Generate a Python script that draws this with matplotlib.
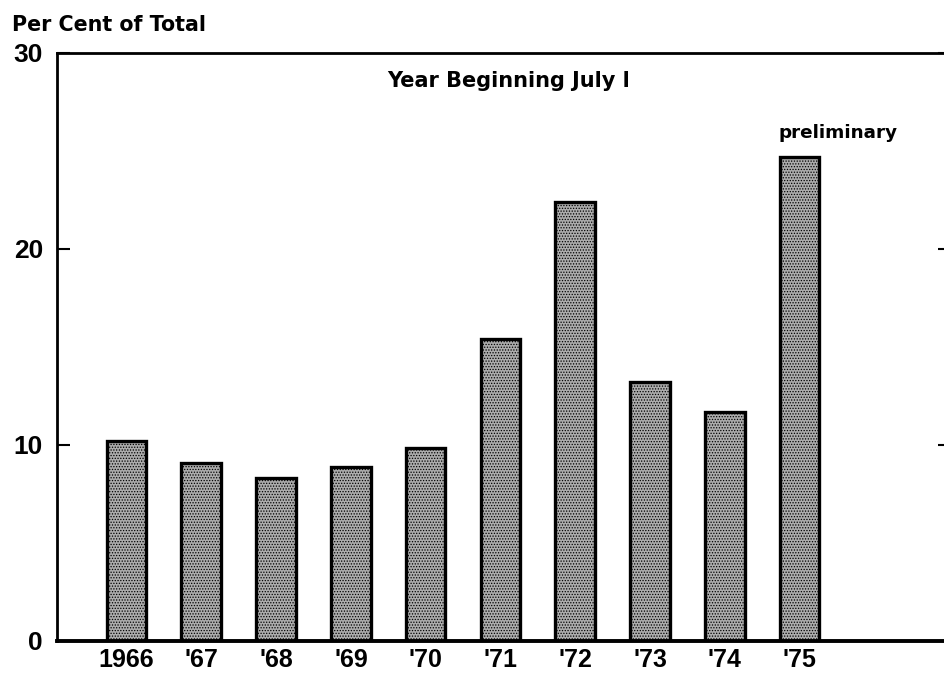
import matplotlib
matplotlib.use("Agg")
import matplotlib.pyplot as plt

categories = ["1966", "'67", "'68", "'69", "'70", "'71", "'72", "'73", "'74", "'75"]
values = [10.2, 9.1, 8.3, 8.9, 9.85, 15.4, 22.4, 13.2, 11.7, 24.7]
yticks = [0, 10, 20, 30]

W, H = 944, 674
fig = plt.figure(figsize=(W / 100, H / 100), dpi=100)
ax = fig.add_axes([57 / W, 1 - 641 / H, (950 - 57) / W, (641 - 53) / H])

x = list(range(len(categories)))
plt.rcParams['hatch.linewidth'] = 0.6
plt.rcParams['hatch.color'] = '#4a4a4a'
ax.bar(x, values, width=0.53, facecolor='#acacac', edgecolor='black',
       linewidth=2.4, hatch='......')

ax.set_xlim(-0.929, 11.01)
ax.set_ylim(0, 30)
ax.set_xticks(x)
ax.set_xticklabels(categories, fontsize=18, fontweight='bold', family='Liberation Sans')
ax.set_yticks(yticks)
ax.set_yticklabels([str(v) for v in yticks], fontsize=19, fontweight='bold', family='Liberation Sans')
ax.tick_params(axis='y', direction='in', length=9, width=1.5, pad=10, right=True)
ax.tick_params(axis='x', length=0, pad=5.0)

for s in ['left', 'top']:
    ax.spines[s].set_linewidth(2)
ax.spines['bottom'].set_linewidth(2.8)
ax.spines['right'].set_visible(False)

ax.text(5.11, 28.27, "Year Beginning July l", ha='center', va='baseline',
        fontsize=15, fontweight='bold', family='DejaVu Sans')
ax.text(9.51, 25.66, "preliminary", ha='center', va='baseline', fontsize=13.2,
        fontweight='bold', family='DejaVu Sans')
fig.text(12 / W, 1 - 31 / H, "Per Cent of Total", ha='left', va='baseline', fontsize=14.9,
         fontweight='bold', family='DejaVu Sans')

fig.savefig("out.png", dpi=100)
